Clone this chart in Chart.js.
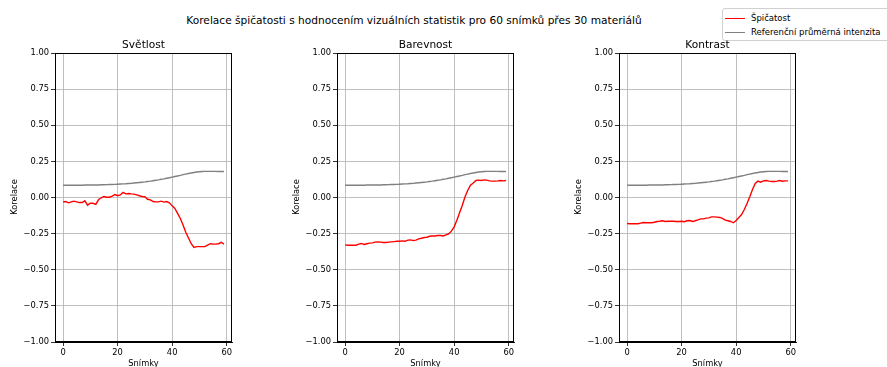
<!DOCTYPE html>
<html>
<head>
<meta charset="utf-8">
<script src="https://cdn.jsdelivr.net/npm/chart.js@4.4.0/dist/chart.umd.min.js"></script>
<style>
  body { margin: 0; background: #fff; font-family: "DejaVu Sans", sans-serif; color: #000; }
  #fig { position: relative; width: 887px; height: 367px; overflow: hidden; }
  .cv { position: absolute; top: 0; }
  .txt { position: absolute; white-space: nowrap; transform: translate(-50%, -50%); }
  .ylab { transform: translate(-50%, -50%) rotate(-90deg); }
  #legend { position: absolute; left: 722px; top: 8px; width: 200px; height: 31px;
            border: 1px solid #d0d0d0; border-radius: 3px; background: #fff; font-size: 8.5px; }
  .lrow { position: absolute; left: 2px; height: 10px; width: 190px; }
  .lline { position: absolute; left: 0; top: 5px; width: 20px; height: 0; border-top: 1.5px solid; }
  .ltxt { position: absolute; left: 26px; top: 0; line-height: 10px; white-space: nowrap; }
</style>
</head>
<body>
<div id="fig">
  <div class="txt" style="left:414px; top:20px; font-size:10.6px;">Korelace špičatosti s hodnocením vizuálních statistik pro 60 snímků přes 30 materiálů</div>

  <canvas id="c0" class="cv" width="260" height="367" style="left:0px"></canvas>
  <canvas id="c1" class="cv" width="260" height="367" style="left:282px"></canvas>
  <canvas id="c2" class="cv" width="260" height="367" style="left:564px"></canvas>

  <div id="legend">
    <div class="lrow" style="top:4px"><div class="lline" style="border-color:#ff0000"></div><div class="ltxt">Špičatost</div></div>
    <div class="lrow" style="top:18px"><div class="lline" style="border-color:#808080"></div><div class="ltxt">Referenční průměrná intenzita</div></div>
  </div>
</div>

<script>
// -------------------------------------------------------------------
// Data
// -------------------------------------------------------------------
const frames = Array.from({ length: 60 }, (_, i) => i);

const panelTitles = ["Světlost", "Barevnost", "Kontrast"];
const xTicks = [0, 20, 40, 60];

const refIntensity = [
  0.085, 0.085, 0.085, 0.085, 0.085, 0.085, 0.085, 0.085, 0.086, 0.086,
  0.086, 0.087, 0.087, 0.087, 0.088, 0.088, 0.089, 0.090, 0.090, 0.091,
  0.092, 0.093, 0.094, 0.095, 0.097, 0.098, 0.100, 0.102, 0.104, 0.106,
  0.108, 0.111, 0.113, 0.116, 0.119, 0.122, 0.126, 0.129, 0.133, 0.137,
  0.141, 0.145, 0.149, 0.153, 0.158, 0.162, 0.166, 0.170, 0.173, 0.176,
  0.178, 0.180, 0.181, 0.181, 0.181, 0.181, 0.181, 0.180, 0.180, 0.180
];

const kurtLightness = [
  -0.030, -0.028, -0.037, -0.030, -0.025, -0.030, -0.035, -0.035, -0.023, -0.053,
  -0.040, -0.040, -0.047, -0.016, -0.002, 0.007, 0.002, 0.002, 0.010, 0.020,
  0.012, 0.018, 0.035, 0.025, 0.028, 0.025, 0.023, 0.018, 0.012, 0.007,
  0.005, -0.012, -0.016, -0.028, -0.030, -0.030, -0.025, -0.032, -0.028, -0.037,
  -0.058, -0.076, -0.110, -0.145, -0.190, -0.240, -0.280, -0.320, -0.346, -0.340,
  -0.340, -0.340, -0.340, -0.330, -0.320, -0.323, -0.323, -0.320, -0.310, -0.323
];

const kurtColorfulness = [
  -0.328, -0.330, -0.330, -0.330, -0.330, -0.323, -0.318, -0.325, -0.320, -0.316,
  -0.314, -0.309, -0.307, -0.309, -0.311, -0.311, -0.309, -0.307, -0.305, -0.303,
  -0.303, -0.300, -0.303, -0.295, -0.293, -0.298, -0.295, -0.286, -0.282, -0.277,
  -0.275, -0.268, -0.266, -0.266, -0.263, -0.263, -0.266, -0.258, -0.251, -0.233,
  -0.203, -0.157, -0.106, -0.053, 0.005, 0.050, 0.085, 0.100, 0.118, 0.120,
  0.118, 0.122, 0.120, 0.115, 0.113, 0.113, 0.115, 0.118, 0.115, 0.118
];

const kurtContrast = [
  -0.180, -0.182, -0.182, -0.182, -0.182, -0.177, -0.173, -0.175, -0.175, -0.175,
  -0.171, -0.166, -0.164, -0.161, -0.166, -0.164, -0.164, -0.164, -0.166, -0.166,
  -0.164, -0.168, -0.161, -0.159, -0.166, -0.161, -0.155, -0.148, -0.148, -0.143,
  -0.141, -0.134, -0.134, -0.136, -0.138, -0.145, -0.157, -0.161, -0.166, -0.175,
  -0.159, -0.138, -0.118, -0.083, -0.041, 0.005, 0.055, 0.097, 0.113, 0.106,
  0.115, 0.118, 0.113, 0.111, 0.111, 0.113, 0.118, 0.113, 0.115, 0.115
];

const kurtSeries = [kurtLightness, kurtColorfulness, kurtContrast];

// -------------------------------------------------------------------
// Chart setup
// -------------------------------------------------------------------
Chart.defaults.font.family = "'DejaVu Sans', sans-serif";
Chart.defaults.font.size = 8.3;
Chart.defaults.color = "#000";

// draws the full black box around the plot area
const frame = {
  id: "frame",
  afterDraw(chart) {
    const { ctx, chartArea: a } = chart;
    ctx.save();
    ctx.strokeStyle = "#000";
    ctx.lineWidth = 1;
    ctx.strokeRect(a.left + 0.5, a.top + 0.5, a.right - a.left - 1, a.bottom - a.top - 1);
    ctx.restore();
  }
};

function fmtTick(v) {
  return v.toFixed(2).replace("-", "\u2212");
}

function toPoints(arr) {
  return arr.map((y, i) => ({ x: frames[i], y }));
}

function makePanel(idx) {
  const canvasId = "c" + idx;
  new Chart(document.getElementById(canvasId), {
    type: "line",
    data: {
      datasets: [
        { label: "Špičatost", data: toPoints(kurtSeries[idx]), borderColor: "#ff0000", borderWidth: 1.4 },
        { label: "Referenční průměrná intenzita", data: toPoints(refIntensity), borderColor: "#808080", borderWidth: 1.4 }
      ]
    },
    options: {
      responsive: false,
      animation: false,
      elements: { point: { radius: 0 }, line: { tension: 0 } },
      layout: { padding: { left: 0, right: 28, top: 53, bottom: 0 } },
      plugins: { legend: { display: false }, tooltip: { enabled: false } },
      scales: {
        x: {
          type: "linear",
          min: -2.95,
          max: 61.95,
          afterBuildTicks: s => { s.ticks = xTicks.map(v => ({ value: v })); },
          afterFit: s => { s.height = 25; },
          ticks: { padding: 2, maxRotation: 0 },
          grid: { color: "#b0b0b0", lineWidth: 0.8, tickColor: "#000", tickLength: 4 },
          border: { color: "#000", width: 1 }
        },
        y: {
          min: -1,
          max: 1,
          afterFit: s => { s.width = 55; },
          ticks: { stepSize: 0.25, padding: 2, callback: v => fmtTick(v) },
          grid: { color: "#b0b0b0", lineWidth: 0.8, tickColor: "#000", tickLength: 4 },
          border: { color: "#000", width: 1 }
        }
      }
    },
    plugins: [frame]
  });
}

[0, 1, 2].forEach(makePanel);

// -------------------------------------------------------------------
// Panel titles and axis labels
// -------------------------------------------------------------------
const fig = document.getElementById("fig");
const plotLefts = [55, 337, 619];
plotLefts.forEach((left, i) => {
  const center = left + 88.5;
  fig.insertAdjacentHTML("beforeend",
    `<div class="txt" style="left:${center}px; top:44px; font-size:10.6px;">${panelTitles[i]}</div>` +
    `<div class="txt" style="left:${center}px; top:363px; font-size:8.3px;">Snímky</div>` +
    `<div class="txt ylab" style="left:${left - 41}px; top:197px; font-size:8.3px;">Korelace</div>`
  );
});
</script>
</body>
</html>
